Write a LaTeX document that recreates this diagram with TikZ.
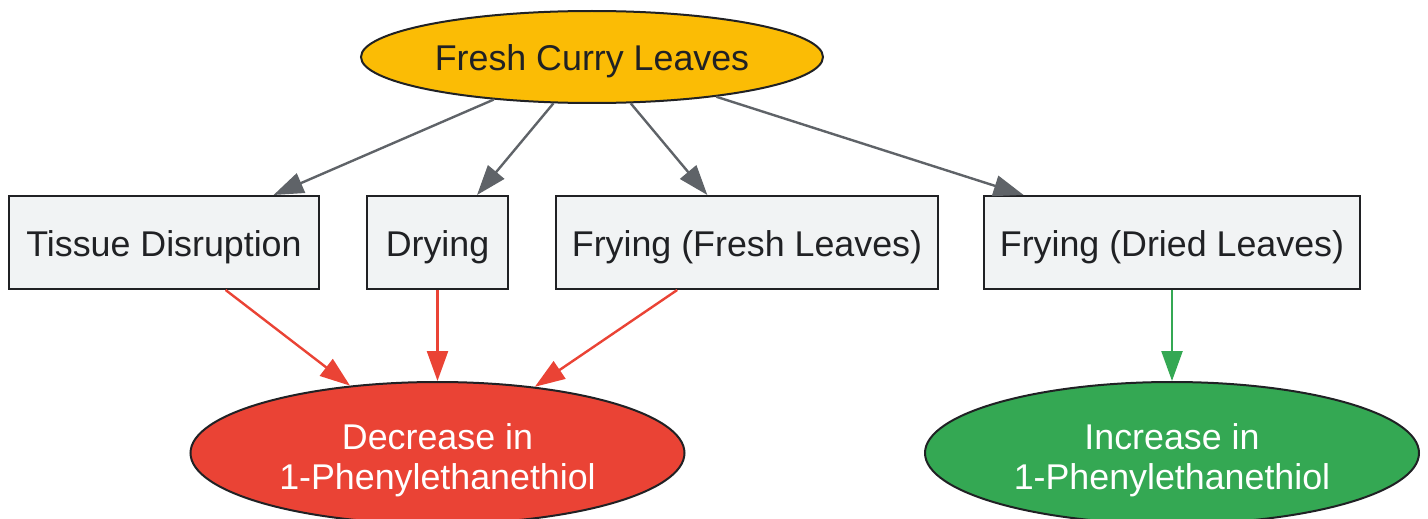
\documentclass[tikz,border=0pt]{standalone}
\usepackage{fontspec}
\setmainfont{Liberation Sans}
\usetikzlibrary{shapes.geometric,arrows.meta}
\definecolor{cyellow}{HTML}{FBBC05}
\definecolor{cred}{HTML}{EA4335}
\definecolor{cgreen}{HTML}{34A853}
\definecolor{cbox}{HTML}{F1F3F4}
\definecolor{cdark}{HTML}{202124}
\definecolor{cgray}{HTML}{5F6368}
\newcommand{\twolines}[2]{\begin{tabular}[t]{@{}c@{}}#1\\#2\end{tabular}}
\tikzset{
  base/.style={draw=cdark, line width=2pt, inner sep=0pt, font=\fontsize{35.8}{40.6}\selectfont},
  oval/.style={base, ellipse},
  oneline/.style={text height=27pt, text depth=0pt},
  twoline/.style={text height=26pt, text depth=34pt},
  stepbox/.style={base, oneline, rectangle, fill=cbox, text=cdark, minimum height=93pt},
  tipshape/.style={-{Triangle[length=30pt,width=21pt]}},
  grayarrow/.style={draw=cgray, line width=2.4pt, tipshape},
  redarrow/.style={draw=cred, line width=2.4pt, tipshape},
  greenarrow/.style={draw=cgreen, line width=2.4pt, tipshape}
}
\begin{document}
\begin{tikzpicture}[x=1pt,y=-1pt]
\useasboundingbox (0,0) rectangle (1428,519);
\node[oval, oneline, fill=cyellow, text=cdark, minimum width=462pt, minimum height=92pt] (fresh) at (592,57) {Fresh Curry Leaves};
\node[stepbox, minimum width=310pt] (tissue) at (164,242.5) {Tissue Disruption};
\node[stepbox, minimum width=141pt] (drying) at (437.5,242.5) {Drying};
\node[stepbox, minimum width=382pt] (fryfresh) at (747,242.5) {Frying (Fresh Leaves)};
\node[stepbox, minimum width=376pt] (frydried) at (1172,242.5) {Frying (Dried Leaves)};
\node[oval, twoline, fill=cred, text=white, minimum width=494pt, minimum height=142pt] (decrease) at (437.5,453) {\twolines{Decrease in}{1-Phenylethanethiol}};
\node[oval, twoline, fill=cgreen, text=white, minimum width=494pt, minimum height=142pt] (increase) at (1172,453) {\twolines{Increase in}{1-Phenylethanethiol}};
\draw[grayarrow] (fresh) -- (tissue);
\draw[grayarrow] (fresh) -- (drying);
\draw[grayarrow] (fresh) -- (fryfresh);
\draw[grayarrow] (fresh) -- (frydried);
\draw[redarrow] (tissue) -- (decrease);
\draw[redarrow] (drying) -- (decrease);
\draw[redarrow] (fryfresh) -- (decrease);
\draw[greenarrow] (frydried) -- (increase);
\end{tikzpicture}
\end{document}
